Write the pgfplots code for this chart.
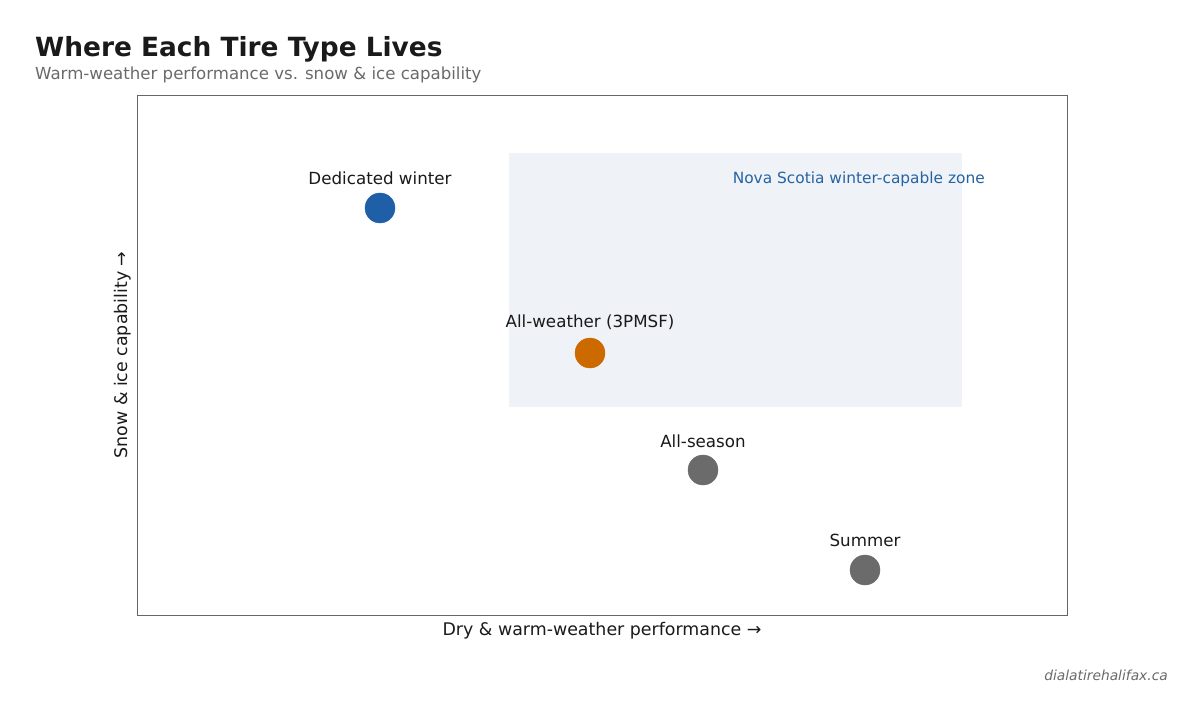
\documentclass[border=0pt]{standalone}
\usepackage{pgfplots}
\pgfplotsset{compat=1.18}
\usepackage{fontspec}
\setmainfont{DejaVu Sans}
\definecolor{winterblue}{HTML}{1F5FA8}
\definecolor{allorange}{HTML}{CC6A00}
\definecolor{dotgrey}{HTML}{6B6B6B}
\definecolor{zonefill}{HTML}{EFF3F8}
\definecolor{zonetext}{HTML}{2563A3}
\definecolor{txt}{HTML}{1A1A1A}
\definecolor{subgrey}{HTML}{6A6A6A}
\definecolor{framegrey}{HTML}{666666}
\begin{document}
\begin{tikzpicture}[x=1pt,y=1pt]
\fill[white] (0,0) rectangle (1204,717);
\node[anchor=base west,text=txt,inner sep=0pt] at (35,660) {\fontsize{26.4}{30}\selectfont\bfseries Where Each Tire Type Lives};
\node[anchor=base west,text=subgrey,inner sep=0pt] at (35,637) {\fontsize{16.6}{20}\selectfont Warm-weather performance vs. snow \& ice capability};
\node[anchor=east,text=subgrey,inner sep=0pt] at (1168,42) {\fontsize{13.8}{16}\selectfont\itshape dialatirehalifax.ca};
\begin{axis}[
  at={(137pt,102pt)}, anchor=south west,
  width=930pt, height=520pt, scale only axis,
  xmin=0, xmax=10, ymin=0, ymax=10,
  xtick=\empty, ytick=\empty,
  axis line style={framegrey, line width=0.8pt},
  xlabel={\fontsize{17.4}{20}\selectfont Dry \& warm-weather performance →},
  ylabel={\fontsize{17.4}{20}\selectfont Snow \& ice capability →},
  xlabel style={text=txt, at={(axis description cs:0.5,0)}, anchor=north, yshift=-4pt},
  ylabel style={text=txt, at={(axis description cs:0,0.5)}, anchor=south, yshift=2pt},
  clip=false,
]
\addplot[fill=zonefill, draw=none] coordinates {(4,4) (8.871,4) (8.871,8.885) (4,8.885)} -- cycle;
\node[anchor=east, text=zonetext, inner sep=0pt] at (axis cs:9.118,8.38) {\fontsize{15.4}{17}\selectfont Nova Scotia winter-capable zone};
\addplot[only marks, color=winterblue, mark=*, mark size=15pt, mark options={fill=winterblue, draw=winterblue}] coordinates {(2.613,7.827)};
\addplot[only marks, color=allorange, mark=*, mark size=15pt, mark options={fill=allorange, draw=allorange}] coordinates {(4.871,5.038)};
\addplot[only marks, color=dotgrey, mark=*, mark size=15pt, mark options={fill=dotgrey, draw=dotgrey}] coordinates {(6.086,2.788) (7.828,0.865)};
\node[text=txt, inner sep=0pt] at (axis cs:2.613,8.40) {\fontsize{16.7}{18}\selectfont Dedicated winter};
\node[text=txt, inner sep=0pt] at (axis cs:4.871,5.62) {\fontsize{16.7}{18}\selectfont All-weather (3PMSF)};
\node[text=txt, inner sep=0pt] at (axis cs:6.086,3.35) {\fontsize{16.7}{18}\selectfont All-season};
\node[text=txt, inner sep=0pt] at (axis cs:7.828,1.44) {\fontsize{16.7}{18}\selectfont Summer};
\end{axis}
\end{tikzpicture}
\end{document}
